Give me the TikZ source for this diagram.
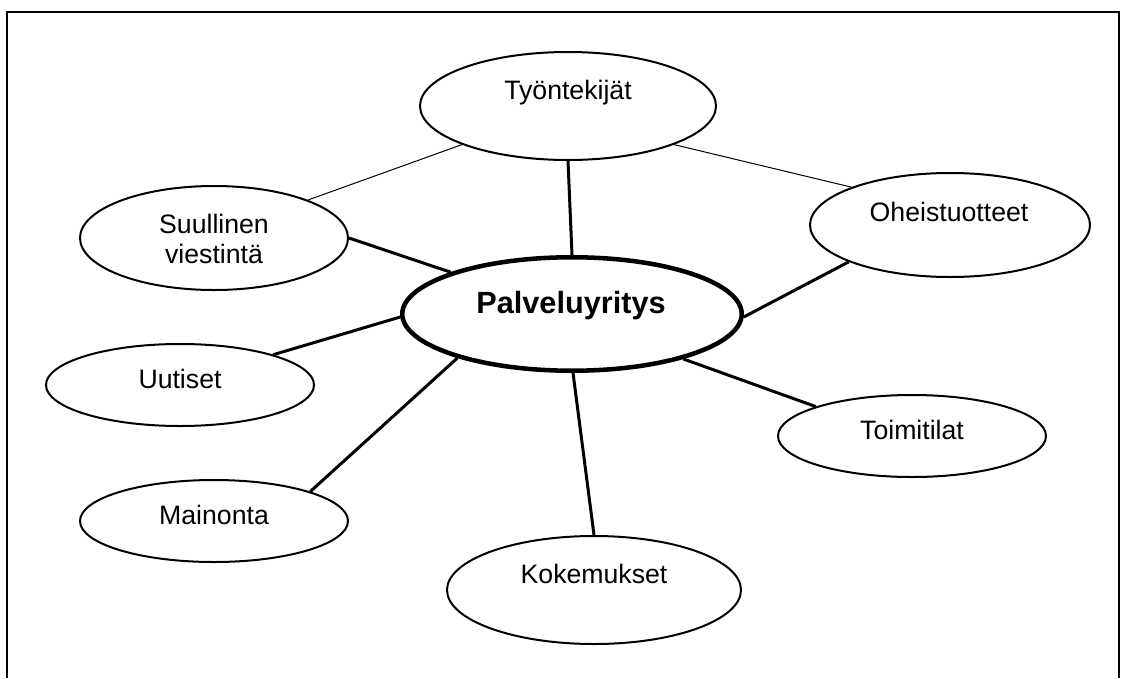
\documentclass[tikz,border=0pt]{standalone}
\usepackage{fontspec}
\setmainfont{Liberation Sans}
\usetikzlibrary{shapes.geometric}
\begin{document}
\begin{tikzpicture}[x=0.75pt,y=-0.75pt,
  bubble/.style 2 args={ellipse, draw, line width=1.5pt, inner sep=0pt,
    minimum width=#1*1.5pt-1.5pt, minimum height=#2*1.5pt-1.5pt},
  hub/.style 2 args={ellipse, draw, line width=3.4pt, inner sep=0pt,
    minimum width=#1*1.5pt-3.4pt, minimum height=#2*1.5pt-3.4pt},
  word/.style={inner sep=0pt, anchor=base, align=center,
    font=\fontsize{20}{22.5}\selectfont},
  hubword/.style={inner sep=0pt, anchor=base,
    font=\fontsize{23}{26}\selectfont\bfseries},
  spoke/.style={line width=2.25pt},
  link/.style={line width=0.75pt}]
\useasboundingbox (0,0) rectangle (1123,678);
% open frame around the mind map
\draw[line width=1.8pt] (7,678) -- (7,12) -- (1119,12) -- (1119,678);

% ellipses
\node[hub={172}{59}]    (pal) at (572,314) {};
\node[bubble={149}{55}] (tyo) at (568,106) {};
\node[bubble={135}{53}] (suu) at (214,238) {};
\node[bubble={141}{53}] (ohe) at (950,225) {};
\node[bubble={135}{42}] (uut) at (180,385) {};
\node[bubble={135}{42}] (toi) at (912,436) {};
\node[bubble={135}{42}] (mai) at (214,521) {};
\node[bubble={148}{55}] (kok) at (594,590) {};

% texts (a two-line text sits on the baseline of its last line)
\node[hubword] (pal-t) at (571,313) {Palveluyritys};
\node[word] (tyo-t) at (568,99)  {Työntekijät};
\node[word] (suu-t) at (214,263) {Suullinen\\viestintä};
\node[word] (ohe-t) at (949,221) {Oheistuotteet};
\node[word] (uut-t) at (180,388) {Uutiset};
\node[word] (toi-t) at (912,439) {Toimitilat};
\node[word] (mai-t) at (214,524) {Mainonta};
\node[word] (kok-t) at (594,583) {Kokemukset};

% spokes from the hub
\draw[spoke] (pal.90)    -- (tyo.270);
\draw[spoke] (pal.161)   -- (suu.0);
\draw[spoke] (pal.181)   -- (uut.18.6);
\draw[spoke] (pal.201.4) -- (mai.17.4);
\draw[spoke] (pal.271)   -- (kok.90);
\draw[spoke] (pal.338.8) -- (toi.163);
\draw[spoke] (pal.359)   -- (ohe.200.8);

% thin links between outer ellipses
\draw[link] (tyo.200.2) -- (suu.22.2);
\draw[link] (tyo.340.1) -- (ohe.159.6);
\end{tikzpicture}
\end{document}
